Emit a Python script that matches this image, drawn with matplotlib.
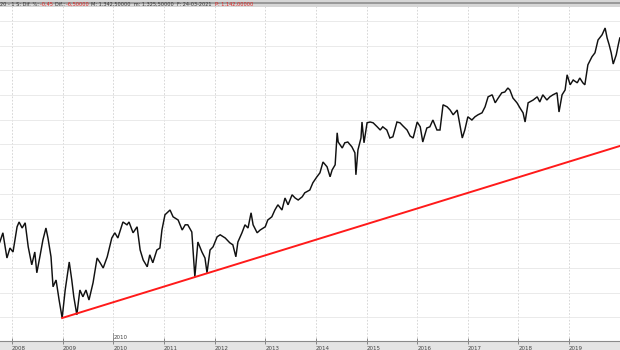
import matplotlib
matplotlib.use("Agg")
import matplotlib.pyplot as plt
from matplotlib.patches import Rectangle
import numpy as np

# closing prices (decimal years)
dates = [2007.76, 2007.82, 2007.90, 2007.96, 2008.02, 2008.10, 2008.14, 2008.20, 2008.26, 2008.32,
         2008.39, 2008.45, 2008.49, 2008.55, 2008.61, 2008.67, 2008.71, 2008.77, 2008.81, 2008.87,
         2008.93, 2008.99, 2009.05, 2009.13, 2009.18, 2009.22, 2009.28, 2009.34, 2009.40, 2009.46,
         2009.52, 2009.60, 2009.68, 2009.74, 2009.80, 2009.88, 2009.97, 2010.03, 2010.09, 2010.19,
         2010.27, 2010.31, 2010.39, 2010.47, 2010.53, 2010.59, 2010.67, 2010.72, 2010.78, 2010.86,
         2010.92, 2010.96, 2011.02, 2011.12, 2011.18, 2011.28, 2011.36, 2011.42, 2011.47, 2011.55,
         2011.61, 2011.67, 2011.75, 2011.81, 2011.85, 2011.91, 2011.97, 2012.05, 2012.11, 2012.21,
         2012.30, 2012.36, 2012.42, 2012.46, 2012.54, 2012.60, 2012.66, 2012.72, 2012.76, 2012.84,
         2012.90, 2013.00, 2013.05, 2013.13, 2013.19, 2013.25, 2013.33, 2013.39, 2013.45, 2013.53,
         2013.59, 2013.65, 2013.73, 2013.78, 2013.88, 2013.94, 2014.02, 2014.08, 2014.14, 2014.22,
         2014.28, 2014.32, 2014.38, 2014.42, 2014.44, 2014.52, 2014.57, 2014.63, 2014.71, 2014.77,
         2014.79, 2014.83, 2014.89, 2014.91, 2014.95, 2015.01, 2015.07, 2015.13, 2015.21, 2015.27,
         2015.32, 2015.40, 2015.46, 2015.52, 2015.60, 2015.66, 2015.72, 2015.80, 2015.86, 2015.92,
         2016.00, 2016.06, 2016.11, 2016.19, 2016.25, 2016.31, 2016.39, 2016.45, 2016.51, 2016.59,
         2016.65, 2016.71, 2016.79, 2016.85, 2016.89, 2016.94, 2017.00, 2017.08, 2017.14, 2017.20,
         2017.28, 2017.34, 2017.40, 2017.48, 2017.54, 2017.60, 2017.67, 2017.73, 2017.79, 2017.83,
         2017.89, 2017.97, 2018.03, 2018.09, 2018.13, 2018.19, 2018.29, 2018.37, 2018.42, 2018.48,
         2018.56, 2018.62, 2018.68, 2018.76, 2018.80, 2018.86, 2018.92, 2018.96, 2019.02, 2019.08,
         2019.16, 2019.21, 2019.27, 2019.31, 2019.37, 2019.45, 2019.51, 2019.57, 2019.65, 2019.71,
         2019.75, 2019.79, 2019.83, 2019.87, 2019.93, 2019.97, 2020.00]
closes = [832, 855, 792, 817, 807, 870, 882, 867, 880, 820,
          775, 807, 755, 795, 837, 867, 842, 795, 720, 737,
          687, 642, 712, 782, 737, 695, 650, 712, 695, 712,
          687, 730, 792, 780, 767, 795, 842, 855, 842, 882,
          875, 882, 855, 870, 812, 787, 770, 800, 780, 812,
          817, 862, 900, 912, 895, 887, 862, 875, 875, 857,
          745, 832, 807, 792, 755, 812, 820, 845, 850, 842,
          830, 825, 795, 832, 855, 875, 867, 905, 875, 855,
          862, 870, 887, 895, 912, 925, 912, 942, 925, 950,
          942, 937, 945, 955, 962, 980, 995, 1005, 1032, 1020,
          995, 1012, 1025, 1105, 1082, 1067, 1080, 1082, 1070, 1055,
          1000, 1062, 1092, 1132, 1080, 1130, 1132, 1130, 1120, 1112,
          1120, 1112, 1092, 1095, 1132, 1130, 1122, 1112, 1097, 1092,
          1132, 1120, 1082, 1117, 1120, 1137, 1112, 1112, 1175, 1170,
          1162, 1150, 1162, 1120, 1092, 1112, 1145, 1137, 1145, 1150,
          1155, 1170, 1195, 1200, 1180, 1192, 1205, 1207, 1217, 1212,
          1192, 1180, 1167, 1155, 1132, 1180, 1187, 1195, 1182, 1200,
          1187, 1195, 1200, 1205, 1157, 1200, 1212, 1250, 1225, 1237,
          1230, 1242, 1230, 1225, 1275, 1295, 1305, 1337, 1350, 1367,
          1342, 1325, 1305, 1277, 1300, 1325, 1342]

# support line: two anchor points
trend_x = [2008.99, 2020.00]
trend_y = [642, 1072]

years = list(range(2008, 2020))
year_labels = [str(y) for y in years]

W, H = 620, 350
fig = plt.figure(figsize=(W / 100, H / 100), dpi=100, facecolor="#e4e4e4")
ax = fig.add_axes([0, 9 / H, 1, 341 / H])
ax.set_facecolor("white")

ax.set_xlim(2007.763, 2020.004)
ax.set_ylim(584.5, 1437)

# grid
ax.set_xticks(years)
ax.set_yticks(np.arange(1437 - 2.5 * 21, 584, -61.75))
ax.yaxis.grid(True, color="#e6e6e6", lw=0.6)
ax.xaxis.grid(True, color="#d0d0d0", lw=0.6, ls=(0, (2, 2)))
ax.set_axisbelow(True)

ax.plot(dates, closes, color="#111111", lw=1.05, solid_joinstyle="miter")
ax.plot(trend_x, trend_y, color="#ff1a1a", lw=1.4)

for s in ["top", "left", "right"]:
    ax.spines[s].set_visible(False)
ax.spines["bottom"].set_color("#8a8a8a")
ax.spines["bottom"].set_linewidth(0.8)
ax.tick_params(axis="y", left=False, right=False, length=0, labelleft=False)
ax.tick_params(axis="x", direction="inout", length=5, width=0.6, color="#777777",
               labelsize=4, labelcolor="#444444", pad=1)
ax.set_xticklabels(year_labels, ha="left")

# stray label above the axis
ax.plot([2010, 2010], [604, 584.5], color="#888888", lw=0.6)
ax.text(2010.01, 594, "2010", fontsize=4, color="#444444", ha="left", va="center")

# header band
fig.patches.append(Rectangle((0, 1 - 7 / H), 1, 7 / H, transform=fig.transFigure,
                             facecolor="#d6d6d6", edgecolor="none", zorder=5))
fig.patches.append(Rectangle((0, 1 - 4 / H), 1, 1.5 / H, transform=fig.transFigure,
                             facecolor="#9a9a9a", edgecolor="none", zorder=5))
parts = [("20 - 1 S: Dif. %: ", "#333333"), ("-0,45 ", "#e02020"), ("Dif.: ", "#333333"),
         ("-6,50000 ", "#e02020"), ("M: 1.342,50000  m: 1.325,50000  F: 24-03-2021  ", "#333333"),
         ("P: 1.142,00000", "#e02020")]
x0 = 0.0
for txt, col in parts:
    t = fig.text(x0, 1 - 4 / H, txt, fontsize=3.6, color=col, va="center", ha="left", zorder=6)
    fig.canvas.draw()
    bb = t.get_window_extent()
    x0 += bb.width / W

fig.savefig("out.png", dpi=100, facecolor=fig.get_facecolor())
